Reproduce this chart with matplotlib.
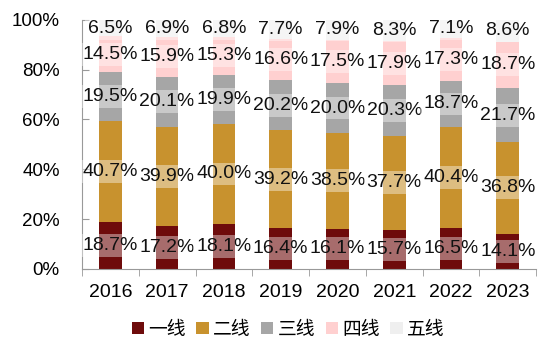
import numpy as np
import matplotlib.pyplot as plt
from matplotlib.ticker import FixedLocator

plt.rcParams['font.family'] = ['Liberation Sans', 'Noto Sans CJK SC', 'DejaVu Sans']

years = ['2016', '2017', '2018', '2019', '2020', '2021', '2022', '2023']
series = ['一线', '二线', '三线', '四线', '五线']
tier1 = [18.7, 17.2, 18.1, 16.4, 16.1, 15.7, 16.5, 14.1]
tier2 = [40.7, 39.9, 40.0, 39.2, 38.5, 37.7, 40.4, 36.8]
tier3 = [19.5, 20.1, 19.9, 20.2, 20.0, 20.3, 18.7, 21.7]
tier4 = [14.5, 15.9, 15.3, 16.6, 17.5, 17.9, 17.3, 18.7]
tier5 = [6.5, 6.9, 6.8, 7.7, 7.9, 8.3, 7.1, 8.6]
colors = ['#6e0b0b', '#c8922e', '#a6a6a6', '#ffd0d0', '#efefef']

fig = plt.figure(figsize=(5.5, 3.56), dpi=100)
ax = fig.add_axes([0.149, 0.245, 0.826, 0.699])

x = np.arange(len(years))
bottom = np.zeros(len(years))
for name, vals, c in zip(series, [tier1, tier2, tier3, tier4, tier5], colors):
    vals = np.array(vals)
    ax.bar(x, vals, 0.4, bottom=bottom, color=c, label=name, zorder=2)
    for xi, b, v in zip(x, bottom, vals):
        ax.text(xi, b + v / 2, f'{v:.1f}%', ha='center', va='center',
                fontsize=14, color='#111111', zorder=3,
                bbox=dict(boxstyle='square,pad=0.15', fc='white', ec='none', alpha=0.4))
    bottom += vals

ax.set_xlim(-0.5, len(years) - 0.5)
ax.set_ylim(0, 100)
ax.set_yticks(range(0, 101, 20))
ax.set_yticklabels([f'{v}%' for v in range(0, 101, 20)], fontsize=13.5)
ax.set_xticks(x)
ax.set_xticklabels(years, fontsize=14)
ax.xaxis.set_minor_locator(FixedLocator(np.arange(-0.5, len(years), 1)))
ax.tick_params(axis='x', which='major', length=0, pad=11)
ax.tick_params(axis='x', which='minor', length=5, direction='out', color='#999999')
ax.tick_params(axis='y', length=5, direction='in', color='#999999', pad=16)

for s in ['top', 'right']:
    ax.spines[s].set_visible(False)
for s in ['left', 'bottom']:
    ax.spines[s].set_color('#999999')

handles, labels = ax.get_legend_handles_labels()
fig.legend(handles, labels, loc='center', bbox_to_anchor=(0.524, 0.073), ncol=5,
           frameon=False, fontsize=13.5, handlelength=0.65, handleheight=0.65,
           handletextpad=0.25, columnspacing=0.55)

plt.savefig('out.png', dpi=100)
